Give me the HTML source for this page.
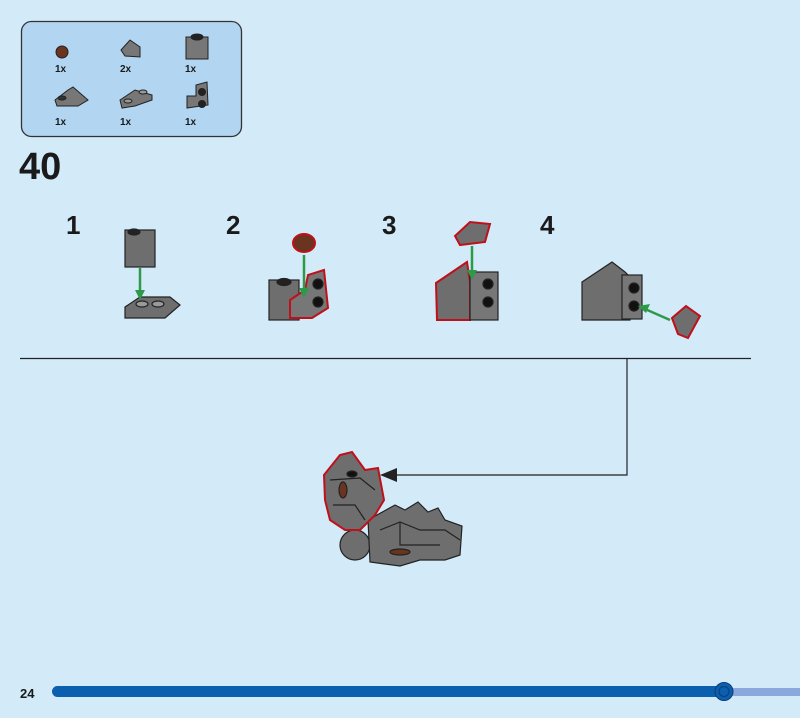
<!DOCTYPE html>
<html><head><meta charset="utf-8"><style>
html,body{margin:0;padding:0;background:#d3eaf9;}
svg{display:block}
text{font-family:"Liberation Sans",sans-serif;font-weight:bold;fill:#1a1a1a}
</style></head><body>
<svg width="800" height="718" viewBox="0 0 800 718" xmlns="http://www.w3.org/2000/svg">
<rect width="800" height="718" fill="#d3eaf9"/>
<rect x="21.5" y="21.5" width="220" height="115" rx="10" fill="#b2d6f1" stroke="#333" stroke-width="1.3"/>
<g stroke="#222" stroke-width="1">
<circle cx="62" cy="52" r="6" fill="#6b3420"/>
<polygon points="121,50 130,40 140,47 140,57 125,56" fill="#777"/>
<rect x="186" y="37" width="22" height="22" fill="#777"/><ellipse cx="197" cy="37" rx="6" ry="3" fill="#222"/>
<polygon points="55,100 68,90 73,87 88,100 78,106 57,106" fill="#777"/><ellipse cx="62" cy="98" rx="4" ry="2" fill="#333"/>
<polygon points="120,100 135,90 152,95 152,100 135,106 122,108" fill="#777"/><ellipse cx="128" cy="101" rx="4" ry="2" fill="#999"/><ellipse cx="143" cy="92" rx="4" ry="2" fill="#999"/>
<polygon points="187,96 196,96 196,85 207,82 208,105 187,108" fill="#777"/><circle cx="202" cy="92" r="3.5" fill="#222"/><circle cx="202" cy="104" r="3.5" fill="#222"/>
</g>
<g font-size="10"><text x="55" y="72">1x</text><text x="120" y="72">2x</text><text x="185" y="72">1x</text>
<text x="55" y="125">1x</text><text x="120" y="125">1x</text><text x="185" y="125">1x</text></g>
<text x="19" y="179" font-size="38">40</text>
<g font-size="26"><text x="66" y="234">1</text><text x="226" y="234">2</text><text x="382" y="234">3</text><text x="540" y="234">4</text></g>
<g stroke="#222" stroke-width="1.2">
<rect x="125" y="230" width="30" height="37" fill="#6e6e6e"/><ellipse cx="134" cy="232" rx="6" ry="3" fill="#222"/>
<polygon points="125,307 140,297 170,297 180,305 165,318 125,318" fill="#6e6e6e"/>
<ellipse cx="142" cy="304" rx="6" ry="3" fill="#999"/><ellipse cx="158" cy="304" rx="6" ry="3" fill="#999"/>
</g>
<line x1="140" y1="268" x2="140" y2="292" stroke="#2d9a4a" stroke-width="2.5"/><polygon points="135,290 145,290 140,300" fill="#2d9a4a"/>
<g stroke="#222" stroke-width="1.2">
<rect x="269" y="280" width="30" height="40" fill="#6e6e6e"/><ellipse cx="284" cy="282" rx="7" ry="3.5" fill="#222"/>
<polygon points="290,300 305,290 308,275 324,270 328,308 312,318 290,318" fill="#777" stroke="#c0101a" stroke-width="2"/>
<circle cx="318" cy="284" r="5" fill="#111"/><circle cx="318" cy="302" r="5" fill="#111"/>
<ellipse cx="304" cy="243" rx="11" ry="9" fill="#6b3420" stroke="#c0101a" stroke-width="2"/>
</g>
<line x1="304" y1="255" x2="304" y2="290" stroke="#2d9a4a" stroke-width="2.5"/><polygon points="299,288 309,288 304,298" fill="#2d9a4a"/>
<g stroke="#222" stroke-width="1.2">
<polygon points="436,283 467,262 470,282 470,320 437,320" fill="#6e6e6e" stroke="#c0101a" stroke-width="2"/>
<rect x="470" y="272" width="28" height="48" fill="#777"/>
<circle cx="488" cy="284" r="5" fill="#111"/><circle cx="488" cy="302" r="5" fill="#111"/>
<polygon points="455,236 470,222 490,224 485,242 460,245" fill="#6e6e6e" stroke="#c0101a" stroke-width="2"/>
</g>
<line x1="472" y1="246" x2="472" y2="272" stroke="#2d9a4a" stroke-width="2.5"/><polygon points="467,270 477,270 472,280" fill="#2d9a4a"/>
<g stroke="#222" stroke-width="1.2">
<polygon points="582,282 612,262 625,272 630,277 630,320 582,320" fill="#6e6e6e"/>
<rect x="622" y="275" width="20" height="44" fill="#777"/>
<circle cx="634" cy="288" r="5" fill="#111"/><circle cx="634" cy="306" r="5" fill="#111"/>
<polygon points="672,318 686,306 700,316 688,338 678,334" fill="#6e6e6e" stroke="#c0101a" stroke-width="2"/>
</g>
<line x1="670" y1="320" x2="645" y2="309" stroke="#2d9a4a" stroke-width="2.5"/><polygon points="638,306 650,304 646,313" fill="#2d9a4a"/>
<line x1="20" y1="358.5" x2="751" y2="358.5" stroke="#222" stroke-width="1.2"/>
<polyline points="627,358 627,475 395,475" fill="none" stroke="#222" stroke-width="1.2"/>
<polygon points="380,475 397,468 397,482" fill="#222"/>
<g stroke="#222" stroke-width="1.2">
<circle cx="355" cy="545" r="15" fill="#6e6e6e"/>
<polygon points="368,520 395,505 405,510 418,502 428,512 438,508 445,520 462,526 460,555 445,560 420,560 400,566 370,562" fill="#6e6e6e"/>
<polyline points="380,530 400,522 420,530 445,530 460,540" fill="none"/>
<polyline points="400,522 400,545 440,545" fill="none"/>
<polygon points="324,475 340,455 352,452 365,470 378,468 384,500 375,515 360,530 345,530 330,520 325,500" fill="#6e6e6e" stroke="#c0101a" stroke-width="2"/>
<polyline points="330,480 360,478 375,490" fill="none"/>
<polyline points="333,505 355,505 365,520" fill="none"/>
<ellipse cx="343" cy="490" rx="4" ry="8" fill="#6b3420"/>
<ellipse cx="352" cy="474" rx="5" ry="3" fill="#111"/>
<ellipse cx="400" cy="552" rx="10" ry="3" fill="#6b3420"/>
</g>
<text x="20" y="698" font-size="13">24</text>
<rect x="725" y="688" width="75" height="8" fill="#8aa8dc"/>
<rect x="52" y="686" width="674" height="11" rx="5.5" fill="#0a5fae"/>
<circle cx="724" cy="691.5" r="9" fill="#0a5fae" stroke="#0a3c78" stroke-width="1"/>
<circle cx="724" cy="691.5" r="5" fill="none" stroke="#0a3c78" stroke-width="1"/>
</svg>
</body></html>
